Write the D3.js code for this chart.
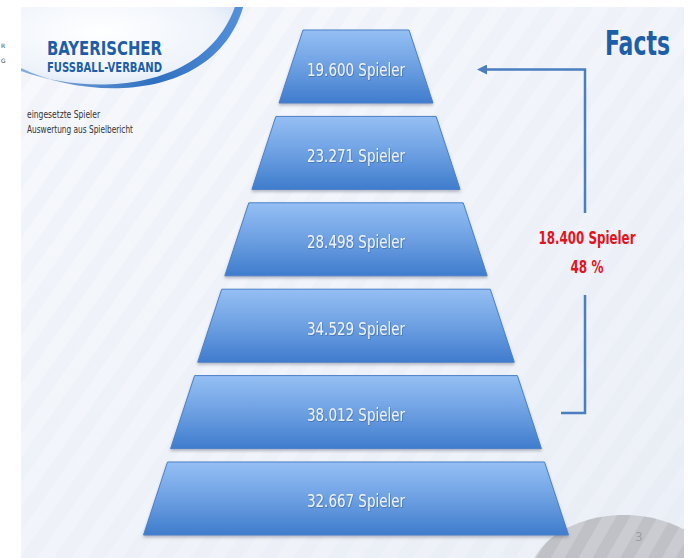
<!DOCTYPE html>
<html>
<head>
<meta charset="utf-8">
<script src="https://cdn.jsdelivr.net/npm/d3@7"></script>
<style>
  html, body { margin: 0; padding: 0; background: #fff; }
  svg { display: block; }
  .narrow { font-family: "Liberation Sans Narrow", "DejaVu Sans Condensed", "Open Sans", sans-serif; }
</style>
</head>
<body>
<svg id="chart" width="699" height="558"></svg>
<script>
// players per level, top of the pyramid first
var levels = [0, 1, 2, 3, 4, 5];
var players = [19600, 23271, 28498, 34529, 38012, 32667];
var unit = 'Spieler';

var titleText = 'Facts';
var logoLines = ['BAYERISCHER', 'FUSSBALL-VERBAND'];
var noteLines = ['eingesetzte Spieler', 'Auswertung aus Spielbericht'];
var deltaLines = ['18.400 Spieler', '48 %'];
var pageNo = '3';

const slide = { x: 21, y: 7, w: 663, h: 551 };
const cx = 356;      // pyramid axis
const slant = 24;    // inset of each top edge

var de = d3.formatLocale({ decimal: ',', thousands: '.', grouping: [3], currency: ['', ' €'] });
var fmt = de.format(',d');

var svg = d3.select('#chart');
var defs = svg.append('defs');

var bg = defs.append('linearGradient').attr('id', 'bg')
  .attr('x1', 0).attr('y1', 0).attr('x2', 1).attr('y2', 1);
bg.append('stop').attr('offset', 0).attr('stop-color', '#f7f9fd');
bg.append('stop').attr('offset', 1).attr('stop-color', '#ebeff7');

var stripes = defs.append('pattern').attr('id', 'stripes')
  .attr('patternUnits', 'userSpaceOnUse')
  .attr('width', 28).attr('height', 28)
  .attr('patternTransform', 'rotate(35)');
stripes.append('rect').attr('width', 14).attr('height', 28).attr('fill', '#dfe4ef').attr('opacity', 0.18);

var darkStripes = defs.append('pattern').attr('id', 'darkStripes')
  .attr('patternUnits', 'userSpaceOnUse')
  .attr('width', 24).attr('height', 24)
  .attr('patternTransform', 'rotate(30)');
darkStripes.append('rect').attr('width', 12).attr('height', 24).attr('fill', '#b8b9be').attr('opacity', 0.6);

var barGrad = defs.append('linearGradient').attr('id', 'bar')
  .attr('x1', 0).attr('y1', 0).attr('x2', 0).attr('y2', 1);
barGrad.append('stop').attr('offset', 0).attr('stop-color', '#95bff4');
barGrad.append('stop').attr('offset', 0.5).attr('stop-color', '#6da0e2');
barGrad.append('stop').attr('offset', 1).attr('stop-color', '#3f7ccd');

var arcGrad = defs.append('linearGradient').attr('id', 'arc')
  .attr('x1', 0).attr('y1', 0).attr('x2', 1).attr('y2', 0);
arcGrad.append('stop').attr('offset', 0).attr('stop-color', '#86aedd');
arcGrad.append('stop').attr('offset', 0.6).attr('stop-color', '#2f6fc0');
arcGrad.append('stop').attr('offset', 1).attr('stop-color', '#5592da');

var glow = defs.append('radialGradient').attr('id', 'glow')
  .attr('cx', 0.35).attr('cy', 0.3).attr('r', 0.7);
glow.append('stop').attr('offset', 0).attr('stop-color', '#ffffff');
glow.append('stop').attr('offset', 0.8).attr('stop-color', '#eef3fb');
glow.append('stop').attr('offset', 1).attr('stop-color', '#dbe6f5');

var shadow = defs.append('filter').attr('id', 'shadow')
  .attr('x', -0.1).attr('y', -0.1).attr('width', 1.2).attr('height', 1.3);
shadow.append('feDropShadow').attr('dx', 0).attr('dy', 2)
  .attr('stdDeviation', 1.5).attr('flood-color', '#6a7080').attr('flood-opacity', 0.45);

var tshadow = defs.append('filter').attr('id', 'tshadow');
tshadow.append('feDropShadow').attr('dx', 0.6).attr('dy', 0.8)
  .attr('stdDeviation', 0.6).attr('flood-color', '#20407a').attr('flood-opacity', 0.5);

var arrowHead = defs.append('marker').attr('id', 'head')
  .attr('viewBox', '0 0 10 10').attr('refX', 2).attr('refY', 5)
  .attr('markerWidth', 4).attr('markerHeight', 4).attr('orient', 'auto-start-reverse');
arrowHead.append('path').attr('d', 'M0,0 L10,5 L0,10 z').attr('fill', '#4a7ebf');

defs.append('clipPath').attr('id', 'slideClip')
  .append('rect').attr('x', slide.x).attr('y', slide.y).attr('width', slide.w).attr('height', slide.h);

// margin scraps left of the slide
svg.append('g').attr('font-family', 'DejaVu Sans, sans-serif').attr('font-size', 6).attr('fill', '#444')
  .selectAll('text').data(['R', 'G']).join('text')
  .attr('x', 1).attr('y', (d, i) => 48 + i * 15).text(d => d);

var page = svg.append('g').attr('clip-path', 'url(#slideClip)');

page.append('rect').attr('x', slide.x).attr('y', slide.y).attr('width', slide.w).attr('height', slide.h)
  .attr('fill', 'url(#bg)');
page.append('rect').attr('x', slide.x).attr('y', slide.y).attr('width', slide.w).attr('height', slide.h)
  .attr('fill', 'url(#stripes)');

// logo wash + swoosh
page.append('path')
  .attr('d', 'M21,7 L240,7 C210,98 90,100 21,70 Z')
  .attr('fill', 'url(#glow)');
page.append('path')
  .attr('d', 'M21,68 C90,102 218,101 244,4 L236,4 C206,93 90,96 21,71 Z')
  .attr('fill', 'url(#arc)');

// bottom-right page corner
page.append('ellipse').attr('cx', 624).attr('cy', 580).attr('rx', 95).attr('ry', 65)
  .attr('fill', '#cbccd1');
page.append('ellipse').attr('cx', 624).attr('cy', 580).attr('rx', 95).attr('ry', 65)
  .attr('fill', 'url(#darkStripes)');
page.append('text').attr('x', 639).attr('y', 541).attr('text-anchor', 'middle')
  .attr('font-family', 'Open Sans, sans-serif').attr('font-size', 12).attr('fill', '#9a9aa0')
  .text(pageNo);

page.append('g').attr('class', 'narrow').attr('font-weight', 'bold').attr('fill', '#1d5ea9')
  .selectAll('text').data(logoLines).join('text')
  .attr('x', 47).attr('y', (d, i) => i ? 72 : 55)
  .attr('font-size', (d, i) => i ? 14 : 20)
  .attr('textLength', 115).attr('lengthAdjust', 'spacingAndGlyphs')
  .text(d => d);

page.append('g').attr('class', 'narrow').attr('font-size', 10).attr('fill', '#333')
  .selectAll('text').data(noteLines).join('text')
  .attr('x', 27).attr('y', (d, i) => 118 + i * 15)
  .attr('textLength', (d, i) => i ? 106 : 73).attr('lengthAdjust', 'spacingAndGlyphs')
  .text(d => d);

page.append('text').attr('class', 'narrow')
  .attr('x', 605).attr('y', 55).attr('font-size', 33).attr('font-weight', 'bold')
  .attr('fill', '#1d5ea9').attr('textLength', 65).attr('lengthAdjust', 'spacingAndGlyphs')
  .text(titleText);

// pyramid
var y = d3.scaleBand().domain(levels).range([30, 535]).paddingInner(0.155).paddingOuter(0);
var bottomW = d3.scaleLinear().domain([0, levels.length - 1]).range([154, 425]);

function trapezoid(i) {
  var t = y(i), b = t + y.bandwidth(), hw = bottomW(i) / 2;
  return d3.line()([
    [cx - hw + slant, t], [cx + hw - slant, t],
    [cx + hw, b], [cx - hw, b]
  ]) + 'Z';
}

var tiers = page.append('g').selectAll('g.tier').data(levels).join('g').attr('class', 'tier');
tiers.append('path')
  .attr('d', trapezoid)
  .attr('fill', 'url(#bar)')
  .attr('stroke', '#4a80c8').attr('stroke-width', 1)
  .attr('filter', 'url(#shadow)');
tiers.append('text').attr('class', 'narrow')
  .attr('x', cx).attr('y', i => y(i) + y.bandwidth() / 2 + 9)
  .attr('text-anchor', 'middle').attr('font-size', 18).attr('fill', '#eef3fb')
  .attr('filter', 'url(#tshadow)')
  .attr('textLength', 98).attr('lengthAdjust', 'spacingAndGlyphs')
  .text(i => fmt(players[i]) + ' ' + unit);

// bracket from the 5th tier up to the top
var topMid = y(0) + y.bandwidth() / 2;
var lowMid = y(4) + y.bandwidth() / 2;
var arm = { x: 585, top: topMid + 3, bottom: lowMid + 1 };

page.append('path')
  .attr('d', d3.line()([[arm.x, 213], [arm.x, arm.top], [cx + bottomW(0) / 2 + 52, arm.top]]))
  .attr('fill', 'none').attr('stroke', '#4a7ebf').attr('stroke-width', 2.5)
  .attr('marker-end', 'url(#head)');
page.append('path')
  .attr('d', d3.line()([[arm.x, 295], [arm.x, arm.bottom], [arm.x - 24, arm.bottom]]))
  .attr('fill', 'none').attr('stroke', '#4a7ebf').attr('stroke-width', 2.5);

page.append('g').attr('class', 'narrow').attr('font-weight', 'bold').attr('fill', '#e5141c')
  .attr('text-anchor', 'middle')
  .selectAll('text').data(deltaLines).join('text')
  .attr('x', 587).attr('y', (d, i) => 244 + i * 29)
  .attr('font-size', 18)
  .attr('textLength', (d, i) => i ? 33 : 97).attr('lengthAdjust', 'spacingAndGlyphs')
  .text(d => d);
</script>
</body>
</html>
